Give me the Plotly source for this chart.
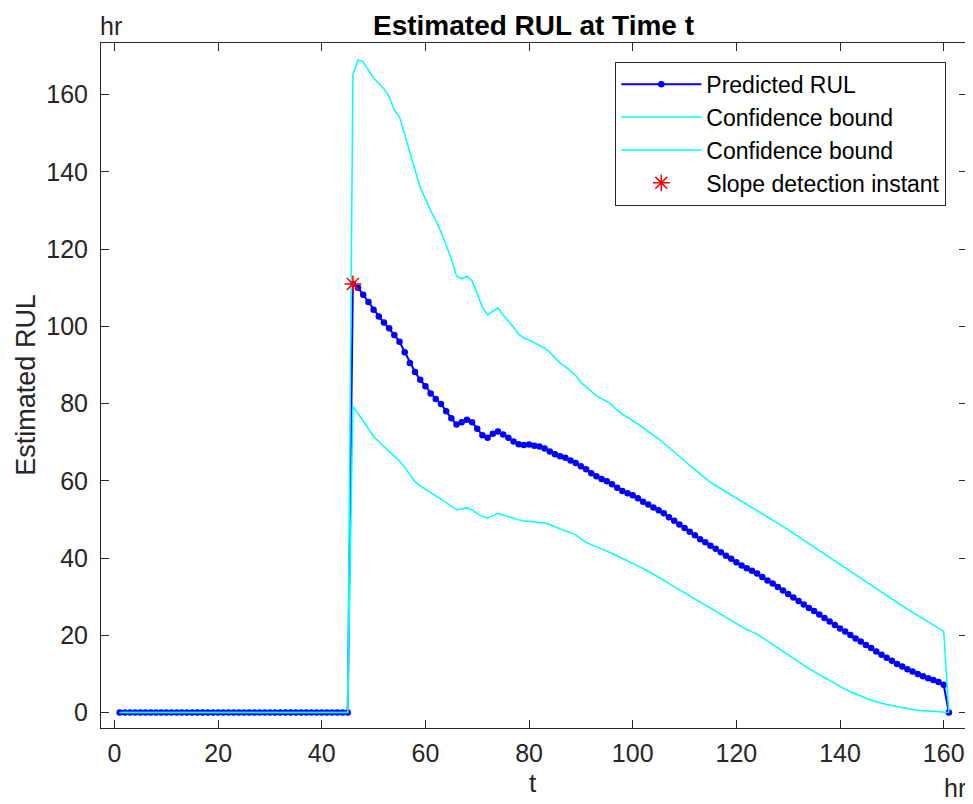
import plotly.graph_objects as go

# ---- data ----
t = list(range(1, 162))

rul_pred = [0.0] * 45 + [
    111.0, 110.0, 108.2, 106.3, 104.3, 102.6, 101.0, 99.5, 97.8, 96.0,
    93.3, 90.5, 88.2, 86.2, 84.5, 82.6, 81.2, 79.9, 78.0, 76.2,
    74.6, 75.2, 75.8, 75.2, 73.5, 71.8, 71.2, 72.2, 72.8, 72.0,
    71.2, 70.2, 69.5, 69.3, 69.4, 69.1, 68.9, 68.4, 67.6, 66.9,
    66.4, 66.0, 65.3, 64.6, 63.8, 63.0, 62.0, 61.2, 60.5, 59.9,
    59.1, 58.2, 57.4, 56.8, 56.3, 55.5, 54.6, 53.9, 53.1, 52.4,
    51.6, 50.6, 49.7, 48.7, 47.8, 46.8, 45.9, 44.9, 44.1, 43.2,
    42.4, 41.5, 40.6, 39.8, 38.9, 38.1, 37.4, 36.7, 36.0, 35.1,
    34.2, 33.4, 32.5, 31.6, 30.7, 29.8, 28.9, 28.0, 27.1, 26.3,
    25.4, 24.5, 23.6, 22.7, 21.8, 21.0, 20.1, 19.2, 18.4, 17.5,
    16.7, 15.8, 15.0, 14.2, 13.4, 12.6, 11.9, 11.2, 10.6, 10.0,
    9.4, 8.9, 8.4, 7.9, 7.2, 0.0]

upper_bound = [0.0] * 45 + [
    165.2, 169.0, 168.5, 166.5, 164.3, 163.0, 161.5, 159.5, 156.0, 154.2,
    149.5, 145.0, 140.0, 136.0, 133.0, 130.0, 127.5, 124.5, 121.0, 117.5,
    113.0, 112.3, 113.0, 111.8, 108.5, 105.0, 103.0, 104.0, 104.8, 103.0,
    101.5, 99.8, 98.0, 97.0, 96.5, 95.8, 95.0, 94.4, 93.3, 91.8,
    90.5, 89.6, 88.5, 87.3, 85.5, 84.3, 83.2, 82.0, 81.3, 80.6,
    79.6, 78.3, 77.3, 76.5, 75.6, 74.7, 73.8, 72.7, 71.8, 70.9,
    69.8, 68.6, 67.5, 66.3, 65.2, 64.0, 62.9, 61.7, 60.6, 59.6,
    58.8, 58.0, 57.2, 56.4, 55.6, 54.8, 54.0, 53.2, 52.4, 51.6,
    50.8, 49.9, 49.1, 48.2, 47.3, 46.4, 45.5, 44.6, 43.7, 42.8,
    41.9, 41.0, 40.1, 39.2, 38.2, 37.3, 36.4, 35.5, 34.6, 33.7,
    32.8, 31.9, 31.0, 30.1, 29.2, 28.4, 27.6, 26.8, 26.0, 25.2,
    24.4, 23.6, 22.8, 22.0, 21.0, 0.0]

lower_bound = [0.0] * 45 + [
    79.3, 77.5, 75.5, 73.5, 71.5, 70.2, 68.8, 67.6, 66.4, 65.1,
    63.5, 61.5, 59.8, 58.7, 57.9, 57.0, 56.1, 55.3, 54.4, 53.4,
    52.5, 52.7, 53.0, 52.5, 51.5, 50.8, 50.4, 51.0, 51.6, 51.2,
    50.7, 50.2, 49.9, 49.6, 49.5, 49.4, 49.3, 49.1, 48.7, 48.1,
    47.5, 47.0, 46.6, 46.0, 45.0, 44.1, 43.5, 43.0, 42.4, 41.8,
    41.2, 40.6, 40.0, 39.4, 38.7, 38.0, 37.3, 36.6, 35.9, 35.1,
    34.3, 33.4, 32.6, 31.7, 30.9, 30.1, 29.3, 28.5, 27.7, 26.9,
    26.1, 25.3, 24.5, 23.7, 22.9, 22.1, 21.5, 20.9, 20.3, 19.4,
    18.5, 17.5, 16.6, 15.7, 14.8, 14.0, 13.1, 12.3, 11.4, 10.6,
    9.8, 9.0, 8.2, 7.4, 6.7, 6.0, 5.4, 4.8, 4.2, 3.7,
    3.2, 2.8, 2.4, 2.1, 1.8, 1.5, 1.2, 1.0, 0.8, 0.6,
    0.5, 0.4, 0.3, 0.25, 0.2, 0.0]

slope_t = [46]
slope_rul = [111.0]

x_ticks = [0, 20, 40, 60, 80, 100, 120, 140, 160]
y_ticks = [0, 20, 40, 60, 80, 100, 120, 140, 160]

# ---- figure ----
FONT = "Liberation Sans, Arial, Helvetica, sans-serif"
AX = "#262626"

fig = go.Figure()
fig.add_trace(go.Scatter(
    x=t, y=rul_pred, mode="lines+markers", name="Predicted RUL",
    line=dict(color="#0000FF", width=2),
    marker=dict(color="#0000FF", size=6.5)))
fig.add_trace(go.Scatter(
    x=t, y=upper_bound, mode="lines", name="Confidence bound",
    line=dict(color="#00FFFF", width=1.5)))
fig.add_trace(go.Scatter(
    x=t, y=lower_bound, mode="lines", name="Confidence bound",
    line=dict(color="#00FFFF", width=1.5)))
fig.add_trace(go.Scatter(
    x=slope_t, y=slope_rul, mode="markers", name="Slope detection instant",
    marker=dict(symbol="asterisk-open", color="#FF0000", size=14,
                line=dict(color="#FF0000", width=1.5))))

# page body has an 8px default margin: lay out in page pixels, then offset
OFF = 8
W, H = 973 - OFF, 804 - OFF
PL, PT, PR, PB = 101, 43.3, 966.7, 728.3   # plot area in page pixels
L, T = PL - OFF, PT - OFF
R, B = W - (PR - OFF), H - (PB - OFF)
pw, ph = PR - PL, PB - PT

def px(xp):
    return (xp - PL) / pw

def py(yp):
    return 1 - (yp - PT) / ph

axis_common = dict(
    showline=True, linecolor=AX, linewidth=1, mirror="ticks",
    ticks="inside", ticklen=8, tickwidth=1, tickcolor=AX,
    showgrid=False, zeroline=False, automargin=False,
    tickfont=dict(family=FONT, size=25, color=AX))

fig.update_layout(
    width=W, height=H,
    margin=dict(l=L, r=R, t=T, b=B, autoexpand=False),
    paper_bgcolor="white", plot_bgcolor="white",
    showlegend=True,
    legend=dict(
        x=px(946), y=py(62), xanchor="right", yanchor="top",
        bgcolor="white", bordercolor=AX, borderwidth=1,
        font=dict(family=FONT, size=23, color="#000000"),
        itemwidth=80, tracegroupgap=0),
    xaxis=dict(range=[-2.6, 164.5], tickvals=x_ticks,
               ticklabelstandoff=3, **axis_common),
    yaxis=dict(range=[-4.0, 173.4], tickvals=y_ticks,
               ticklabelstandoff=7, **axis_common),
)

annos = [
    dict(text="<b>Estimated RUL at Time t</b>", x=px(533), y=py(8.5),
         yanchor="top", font=dict(family=FONT, size=28, color="#000000")),
    dict(text="hr", x=px(111), y=py(26), yanchor="middle",
         font=dict(family=FONT, size=25, color=AX)),
    dict(text="hr", x=px(955), y=py(788), yanchor="middle",
         font=dict(family=FONT, size=25, color=AX)),
    dict(text="t", x=px(533), y=py(766), yanchor="top",
         font=dict(family=FONT, size=26, color=AX)),
    dict(text="Estimated RUL", x=px(26), y=py(385), textangle=-90,
         yanchor="middle", font=dict(family=FONT, size=27, color=AX)),
]
for a in annos:
    fig.add_annotation(xref="paper", yref="paper", xanchor="center",
                       showarrow=False, **a)

fig.write_html("out.html")
